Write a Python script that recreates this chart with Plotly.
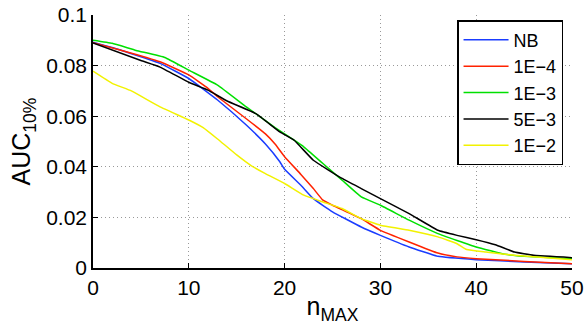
import plotly.graph_objects as go

# ---- data ----
nb_x = [0, 3, 7, 10, 13, 16, 18, 19.5, 20, 21.7, 23, 25, 28, 30, 33, 36, 40, 45, 50]
nb_y = [0.0892, 0.0860, 0.0809, 0.0749, 0.0664, 0.0565, 0.0490, 0.0420, 0.0390, 0.0327,
        0.0274, 0.0222, 0.0162, 0.0129, 0.0083, 0.0046, 0.0033, 0.0024, 0.0017]

r4_x = [0, 3, 7, 10, 12, 13, 16, 18, 19, 20, 21.7, 23, 24, 25, 28, 30, 33, 36, 38, 40, 45, 50]
r4_y = [0.0890, 0.0860, 0.0815, 0.0763, 0.0710, 0.0677, 0.0590, 0.0530, 0.0490, 0.0440,
        0.0370, 0.0314, 0.0268, 0.0248, 0.0195, 0.0149, 0.0103, 0.0059, 0.0044, 0.0037,
        0.0026, 0.0017]

r3_x = [0, 2, 4.5, 7.5, 10, 13, 16, 19, 21, 22, 24, 26, 28, 30, 33, 36, 40, 43, 45, 50]
r3_y = [0.0900, 0.0888, 0.0860, 0.0832, 0.0782, 0.0723, 0.0637, 0.0555, 0.0505,
        0.0479, 0.0413, 0.0347, 0.0281, 0.0248, 0.0189, 0.0136, 0.0083, 0.0054, 0.0046,
        0.0037]

k_x = [0, 5, 7, 10, 12, 14, 17, 19.5, 21, 23, 26, 28, 30, 33, 36, 38, 40, 42, 44, 46, 50]
k_y = [0.0890, 0.0820, 0.0794, 0.0734, 0.0703, 0.0660, 0.0610, 0.0538, 0.0505, 0.0426,
       0.0354, 0.0314, 0.0274, 0.0215, 0.0149, 0.0129, 0.0112, 0.0092, 0.0063, 0.0050,
       0.0041]

y2_x = [0, 2, 4, 7, 10, 11.5, 13, 15, 16.5, 18, 20, 22, 24, 26, 28, 30, 33, 36, 38, 39, 41, 44, 50]
y2_y = [0.0778, 0.0730, 0.0700, 0.0637, 0.0585, 0.0555, 0.0510, 0.0447, 0.0405, 0.0373,
        0.0334, 0.0288, 0.0261, 0.0235, 0.0195, 0.0169, 0.0149, 0.0123, 0.0096, 0.0073,
        0.0063, 0.0050, 0.0033]

series = [
    ("NB", nb_x, nb_y, "#1a3cff"),
    ("1E\u22124", r4_x, r4_y, "#ff2200"),
    ("1E\u22123", r3_x, r3_y, "#00e000"),
    ("5E\u22123", k_x, k_y, "#000000"),
    ("1E\u22122", y2_x, y2_y, "#f2f200"),
]

x_ticks = [0, 10, 20, 30, 40, 50]
y_ticks = [0, 0.02, 0.04, 0.06, 0.08, 0.1]
y_tick_text = ["0", "0.02", "0.04", "0.06", "0.08", "0.1"]

fig = go.Figure()
for name, xs, ys, col in series:
    fig.add_trace(go.Scatter(x=xs, y=ys, mode="lines", name=name,
                             line=dict(color=col, width=1.5, shape="spline", smoothing=0.3)))

font = "Liberation Sans, Arial, Helvetica, sans-serif"
grid = dict(showgrid=True, gridcolor="#999999", griddash="1px,3px", gridwidth=1)
fig.update_layout(
    width=585, height=325,
    margin=dict(l=93, r=13, t=15, b=57, autoexpand=False),
    paper_bgcolor="white", plot_bgcolor="white",
    font=dict(family=font, size=21, color="black"),
    showlegend=True,
    legend=dict(x=0.76, y=0.98, xanchor="left", yanchor="top",
                bgcolor="white", bordercolor="black", borderwidth=1.5,
                font=dict(size=18), tracegroupgap=0, itemwidth=45),
    xaxis=dict(range=[0, 50], tickvals=x_ticks, automargin=False,
               ticklabeloverflow="allow",
               showline=True, linecolor="black", linewidth=1.5,
               ticks="inside", ticklen=5, tickcolor="black",
               zeroline=False,
               title=dict(text="n<sub>MAX</sub>", standoff=0), **grid),
    yaxis=dict(range=[0, 0.1], tickvals=y_ticks, ticktext=y_tick_text, automargin=False,
               ticklabeloverflow="allow",
               showline=True, linecolor="black", linewidth=1.5,
               ticks="inside", ticklen=5, tickcolor="black",
               zeroline=False,
               title=dict(text="AUC<sub>10%</sub>", standoff=8), **grid),
)

# remove the browser's default 8px body margin so the figure sits at the page origin
fig.write_html("out.html", config={"displayModeBar": False},
               post_script="document.body.style.margin='0';")
